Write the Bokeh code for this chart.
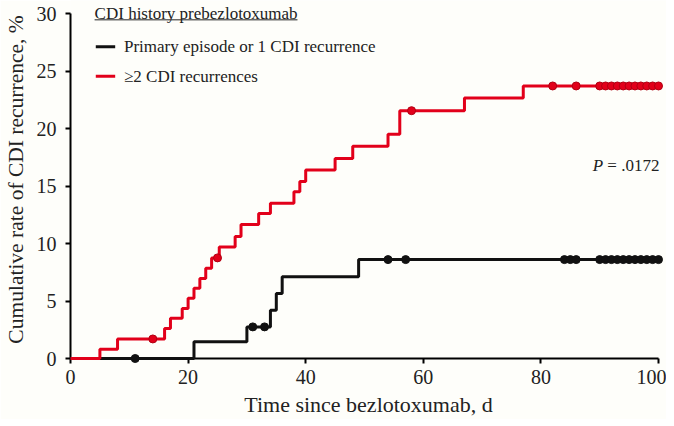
import numpy as np
from bokeh.plotting import figure
from bokeh.models import Range1d, FixedTicker, Label
from bokeh.embed import file_html
from bokeh.resources import INLINE

# ---- data ----
# >=2 CDI recurrences (red): step times (days) and cumulative rate (%) after each step
red_times = [0, 5, 8, 16, 17, 19, 20, 21, 22, 23, 24, 25.3, 28, 29, 32, 34, 38, 39, 40, 45, 48, 54, 56, 67, 77]
red_rates = [0, 0.8, 1.7, 2.6, 3.5, 4.35, 5.25, 6.1, 6.95, 7.85, 8.75, 9.7, 10.6, 11.65, 12.6, 13.5, 14.5, 15.4, 16.4, 17.4, 18.45, 19.5, 21.55, 22.65, 23.7]
red_censor = [14, 25, 58, 82, 86, 90, 91, 92, 93, 94, 95, 96, 97, 98, 99, 100]

# Primary episode or 1 CDI recurrence (black)
blk_times = [0, 21, 30, 34, 35, 36, 49]
blk_rates = [0, 1.45, 2.75, 4.2, 5.65, 7.1, 8.6]
blk_censor = [11, 31, 33, 54, 57, 84, 85, 86, 90, 91, 92, 93, 94, 95, 96, 97, 98, 99, 100]

x_ticks = [0, 20, 40, 60, 80, 100]
y_ticks = [0, 5, 10, 15, 20, 25, 30]
X_MAX = 100
Y_MAX = 30

legend_title = "CDI history prebezlotoxumab"
legend_labels = ["Primary episode or 1 CDI recurrence", "\u22652 CDI recurrences"]
p_label = "P"
p_value_text = "= .0172"

RED = "#e2001a"
BLACK = "#111111"
TXT = "#222222"
FONT = "Liberation Serif"
BG = "#fefefa"


def step_xy(times, rates, end):
    xs = list(times) + [end]
    ys = list(rates) + [rates[-1]]
    return xs, ys


def level_at(times, rates, t):
    idx = np.searchsorted(np.asarray(times, dtype=float), np.asarray(t, dtype=float), side="right") - 1
    return list(np.asarray(rates)[idx])


p = figure(frame_width=596, frame_height=358, output_backend="svg", toolbar_location=None,
           x_range=Range1d(0, X_MAX * 1.0136), y_range=Range1d(0, Y_MAX * 1.0377),
           min_border=0)
p.background_fill_color = BG
p.border_fill_color = BG
p.outline_line_color = None
p.grid.visible = False

# axes
for ax in (p.xaxis[0], p.yaxis[0]):
    ax.axis_line_width = 2
    ax.axis_line_color = "black"
    ax.major_tick_line_width = 2
    ax.major_tick_line_color = "black"
    ax.major_tick_out = 5
    ax.major_tick_in = 0
    ax.minor_tick_line_color = None
    ax.major_label_text_font = FONT
    ax.major_label_text_font_size = "20px"
    ax.major_label_text_color = TXT
    ax.axis_label_text_font = FONT
    ax.axis_label_text_font_style = "normal"
    ax.axis_label_text_color = TXT

p.xaxis.ticker = FixedTicker(ticks=x_ticks)
p.yaxis.ticker = FixedTicker(ticks=y_ticks)
p.xaxis.bounds = (0, X_MAX)
p.yaxis.bounds = (0, Y_MAX)
p.xaxis.axis_label = "Time since bezlotoxumab, d"
p.yaxis.axis_label = "Cumulative rate of CDI recurrence, %"
p.xaxis.axis_label_text_font_size = "22px"
p.yaxis.axis_label_text_font_size = "21.5px"
p.xaxis.major_label_standoff = 6
p.xaxis.axis_label_standoff = 5
p.yaxis.major_label_standoff = 9
p.yaxis.axis_label_standoff = 6

# curves (drawn above the axis lines)
bx, by = step_xy(blk_times, blk_rates, X_MAX)
rx, ry = step_xy(red_times, red_rates, X_MAX)
p.step(bx, by, mode="after", line_color=BLACK, line_width=3, level="overlay")
p.scatter(blk_censor, level_at(blk_times, blk_rates, blk_censor), size=8,
          fill_color=BLACK, line_color=BLACK, level="overlay")
p.step(rx, ry, mode="after", line_color=RED, line_width=3, level="overlay")
p.scatter(red_censor, level_at(red_times, red_rates, red_censor), size=8,
          fill_color=RED, line_color="#b00012", level="overlay")

# legend (drawn manually)
p.add_layout(Label(x=4.1, y=30.0, text=legend_title, text_font=FONT, text_font_size="17px",
                   text_baseline="middle", text_align="left", text_color=TXT))
p.segment(x0=[4.1], y0=[29.45], x1=[38.6], y1=[29.45], line_color=TXT, line_width=1)
p.segment(x0=[4.3, 4.3], y0=[27.1, 24.55], x1=[7.6, 7.6], y1=[27.1, 24.55],
          line_color=[BLACK, RED], line_width=3)
for lbl, yy in zip(legend_labels, [27.1, 24.55]):
    p.add_layout(Label(x=9.1, y=yy, text=lbl, text_font=FONT, text_font_size="17px",
                       text_baseline="middle", text_align="left", text_color=TXT))

# P value
p.add_layout(Label(x=88.8, y=16.8, text=p_label, text_font=FONT, text_font_size="17px",
                   text_font_style="italic", text_baseline="middle", text_align="left",
                   text_color=TXT))
p.add_layout(Label(x=91.3, y=16.8, text=p_value_text, text_font=FONT, text_font_size="17px",
                   text_baseline="middle", text_align="left", text_color=TXT))

open("out.html", "w").write(file_html(p, INLINE))
